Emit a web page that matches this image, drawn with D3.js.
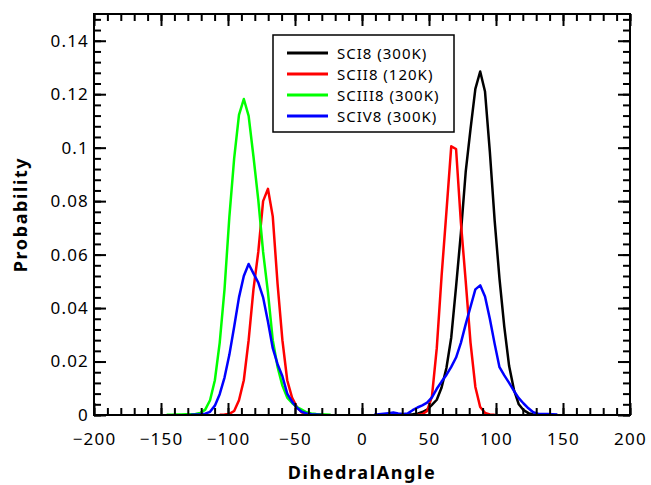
<!DOCTYPE html>
<meta charset="utf-8" />
<style>
  body { margin: 0; background: #fff; }
  svg text { font-family: "Noto Sans", sans-serif; fill: #000; }
  .axis text { font-size: 17px; letter-spacing: 1.2px; }
  .axis line { stroke: #000; stroke-width: 2; }
  .title { font-size: 18px; font-weight: bold; letter-spacing: 1.6px; }
  .legend text { font-size: 15px; letter-spacing: 1px; }
  .curve { fill: none; stroke-width: 2.5; stroke-linejoin: round; }
</style>
<svg width="651" height="485"></svg>
<script src="https://cdn.jsdelivr.net/npm/d3@7"></script>
<script>
  // dihedral angle histograms (bin centres, degrees) and probabilities
  var scI8Angle = [30.6, 34.2, 37.8, 41.4, 45, 48.6, 52.2, 55.8, 59.4, 63, 66.6, 70.2, 73.8, 77.4, 81, 84.6,
    88.2, 91.8, 95.4, 99, 102.6, 106.2, 109.8, 113.4, 117, 120.6, 124.2, 127.8, 131.4];
  var scI8Prob = [0.0001, 0.0002, 0.0003, 0.0005, 0.0011, 0.002, 0.0038, 0.0057, 0.0103, 0.0176, 0.029, 0.048, 0.068, 0.091, 0.107, 0.122,
    0.1285, 0.121, 0.0985, 0.0727, 0.051, 0.033, 0.0183, 0.0094, 0.004, 0.0018, 0.0007, 0.0002, 0.0001];

  var scII8Angle = [-106.2, -102.6, -99, -95.4, -91.8, -88.2, -84.6, -81, -77.4, -73.8, -70.2, -66.6, -63, -59.4, -55.8, -52.2, -48.6, -45, -41.4, -37.8,
    null, 41.4, 45, 48.6, 52.2, 55.8, 59.4, 63, 66.6, 70.2, 73.8, 77.4, 81, 84.6, 88.2, 91.8, 95.4, 99];
  var scII8Prob = [0.0001, 0.0002, 0.0004, 0.0015, 0.0055, 0.013, 0.028, 0.047, 0.061, 0.08, 0.0846, 0.0743, 0.049, 0.028, 0.013, 0.0065, 0.003, 0.001, 0.0003, 0.0001,
    null, 0.0001, 0.0003, 0.0015, 0.007, 0.025, 0.052, 0.076, 0.1005, 0.0995, 0.072, 0.05, 0.027, 0.0105, 0.003, 0.0008, 0.0002, 0.0001];

  var scIII8Angle = [-145.8, -142.2, -138.6, -135, -131.4, -127.8, -124.2, -120.6, -117, -113.4, -109.8, -106.2, -102.6, -99, -95.4, -91.8,
    -88.2, -84.6, -81, -77.4, -73.8, -70.2, -66.6, -63, -59.4, -55.8, -52.2, -48.6, -45, -41.4, -37.8, -34.2, -30.6, -27, -23.4];
  var scIII8Prob = [0.0001, 0.0001, 0.0002, 0.0002, 0.0003, 0.0003, 0.0004, 0.0008, 0.002, 0.0055, 0.013, 0.027, 0.047, 0.074, 0.096, 0.1123,
    0.1182, 0.1119, 0.0967, 0.0805, 0.061, 0.046, 0.028, 0.018, 0.011, 0.0065, 0.0045, 0.003, 0.002, 0.001, 0.0006, 0.0004, 0.0003, 0.0002, 0.0001];

  var scIV8Angle = [-127.8, -124.2, -120.6, -117, -113.4, -109.8, -106.2, -102.6, -99, -95.4, -91.8, -88.2, -84.6, -81, -77.4, -73.8,
    -70.2, -66.6, -63, -59.4, -55.8, -52.2, -48.6, -45, -41.4, -37.8, -34.2, -30.6, null,
    9, 12.6, 16.2, 19.8, 23.4, 27, 30.6, 34.2, 37.8, 41.4, 45, 48.6, 52.2, 55.8, 59.4, 63, 66.6, 70.2, 73.8, 77.4, 81, 84.6,
    88.2, 91.8, 95.4, 99, 102.6, 106.2, 109.8, 113.4, 117, 120.6, 124.2, 127.8, 131.4, 135, 138.6, 142.2, 145.8];
  var scIV8Prob = [0.0001, 0.0002, 0.0003, 0.0005, 0.0012, 0.0035, 0.0078, 0.014, 0.0225, 0.033, 0.044, 0.052, 0.0565, 0.053, 0.0495, 0.044,
    0.035, 0.025, 0.019, 0.0145, 0.008, 0.005, 0.0027, 0.0012, 0.0006, 0.0003, 0.0002, 0.0001, null,
    0.0001, 0.0003, 0.0005, 0.0007, 0.0009, 0.0006, 0.0004, 0.0006, 0.0018, 0.0028, 0.0036, 0.0046, 0.0066, 0.0098, 0.0125, 0.015, 0.018, 0.0215, 0.027, 0.034, 0.0405, 0.047,
    0.0485, 0.0443, 0.036, 0.0266, 0.0179, 0.0148, 0.012, 0.009, 0.0063, 0.0043, 0.0025, 0.001, 0.0005, 0.0004, 0.0004, 0.0003, 0.0002];

  var seriesNames = ["SCI8 (300K)", "SCII8 (120K)", "SCIII8 (300K)", "SCIV8 (300K)"];
  var seriesColors = ["#000000", "#ff0000", "#00ff00", "#0000ff"];

  var xTicks = [-200, -150, -100, -50, 0, 50, 100, 150, 200];
  var xTickLabels = ["\u2212200", "\u2212150", "\u2212100", "\u221250", "0", "50", "100", "150", "200"];
  var yTicks = [0, 0.02, 0.04, 0.06, 0.08, 0.1, 0.12, 0.14];
  var yTickLabels = ["0", "0.02", "0.04", "0.06", "0.08", "0.1", "0.12", "0.14"];

  var series = [
    { a: scI8Angle, p: scI8Prob },
    { a: scII8Angle, p: scII8Prob },
    { a: scIII8Angle, p: scIII8Prob },
    { a: scIV8Angle, p: scIV8Prob }
  ];

  var svg = d3.select("svg"),
    margin = { top: 14, right: 21, bottom: 70, left: 94 },
    width = +svg.attr("width") - margin.left - margin.right,
    height = +svg.attr("height") - margin.top - margin.bottom;

  var x = d3.scaleLinear().domain([-200, 200]).range([0, width]),
    y = d3.scaleLinear().domain([0, 0.15]).range([height, 0]);

  var g = svg.append("g")
    .attr("transform", "translate(" + margin.left + "," + margin.top + ")");

  var line = d3.line()
    .defined(function(d) { return d[1] != null; })
    .x(function(d) { return x(d[0]); })
    .y(function(d) { return y(d[1]); });

  series.forEach(function(s, i) {
    var pts = s.a.map(function(v, j) { return [v, s.p[j]]; });
    g.append("path")
      .attr("class", "curve")
      .attr("stroke", seriesColors[i])
      .attr("d", line(pts));
  });

  var xMinor = d3.range(-200, 201, 10),
    yMinor = d3.range(0, 0.1501, 0.004);

  function clean(sel) { sel.select(".domain").remove(); }

  // minor ticks (all four sides, inward)
  g.append("g").attr("class", "axis").attr("transform", "translate(0," + height + ")")
    .call(d3.axisBottom(x).tickValues(xMinor).tickSize(-7).tickFormat("")).call(clean);
  g.append("g").attr("class", "axis")
    .call(d3.axisTop(x).tickValues(xMinor).tickSize(-7).tickFormat("")).call(clean);
  g.append("g").attr("class", "axis")
    .call(d3.axisLeft(y).tickValues(yMinor).tickSize(-7).tickFormat("")).call(clean);
  g.append("g").attr("class", "axis").attr("transform", "translate(" + width + ",0)")
    .call(d3.axisRight(y).tickValues(yMinor).tickSize(-7).tickFormat("")).call(clean);

  // major ticks
  g.append("g").attr("class", "axis").attr("transform", "translate(0," + height + ")")
    .call(d3.axisBottom(x).tickValues(xTicks).tickSize(-12).tickPadding(18)
      .tickFormat(function(d, i) { return xTickLabels[i]; })).call(clean);
  g.append("g").attr("class", "axis")
    .call(d3.axisTop(x).tickValues(xTicks).tickSize(-12).tickFormat("")).call(clean);
  g.append("g").attr("class", "axis")
    .call(d3.axisLeft(y).tickValues(yTicks).tickSize(-12).tickPadding(5)
      .tickFormat(function(d, i) { return yTickLabels[i]; })).call(clean);
  g.append("g").attr("class", "axis").attr("transform", "translate(" + width + ",0)")
    .call(d3.axisRight(y).tickValues(yTicks).tickSize(-12).tickFormat("")).call(clean);

  g.append("rect")
    .attr("width", width).attr("height", height)
    .attr("fill", "none").attr("stroke", "#000").attr("stroke-width", 2);

  svg.append("text").attr("class", "title")
    .attr("x", margin.left + width / 2).attr("y", 479)
    .attr("text-anchor", "middle")
    .text("DihedralAngle");

  svg.append("text").attr("class", "title")
    .attr("transform", "translate(27," + (margin.top + height / 2) + ") rotate(-90)")
    .attr("text-anchor", "middle")
    .text("Probability");

  // legend
  var lg = svg.append("g").attr("class", "legend").attr("transform", "translate(273,35)");
  lg.append("rect").attr("width", 181).attr("height", 97)
    .attr("fill", "#fff").attr("stroke", "#000").attr("stroke-width", 1.5);
  seriesNames.forEach(function(name, i) {
    var yy = 18 + i * 21;
    lg.append("line").attr("x1", 14).attr("x2", 55).attr("y1", yy).attr("y2", yy)
      .attr("stroke", seriesColors[i]).attr("stroke-width", 3);
    lg.append("text").attr("x", 64).attr("y", yy + 6).text(name);
  });
</script>
